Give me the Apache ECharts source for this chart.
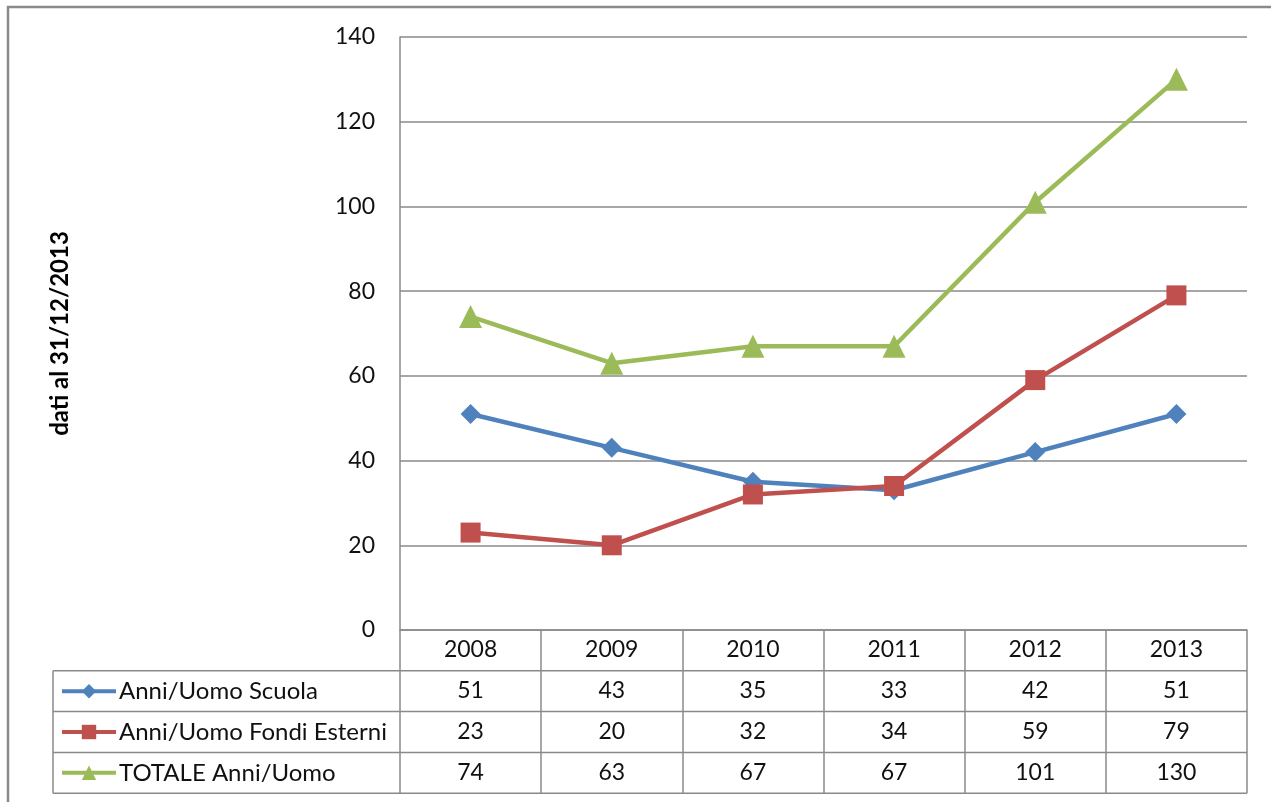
<!DOCTYPE html>
<html><head><meta charset="utf-8">
<script src="https://cdn.jsdelivr.net/npm/echarts@6/dist/echarts.min.js"></script>
<style>html,body{margin:0;padding:0;background:#fff;}#c{width:1271px;height:802px;}</style>
</head><body><div id="c"></div>
<script>
// ---- data ----
const years = ['2008', '2009', '2010', '2011', '2012', '2013'];
const scuola = [51, 43, 35, 33, 42, 51];
const fondi = [23, 20, 32, 34, 59, 79];
const totale = [74, 63, 67, 67, 101, 130];
const seriesNames = ['Anni/Uomo Scuola', 'Anni/Uomo Fondi Esterni', 'TOTALE Anni/Uomo'];
const yMin = 0, yMax = 140, yInterval = 20;
const axisTitle = 'dati al 31/12/2013';

// ---- layout / style ----
const FONT = 'Lato';
const GRAY = '#8a8a8a';
const gridL = 400, gridR = 1247, gridT = 37, gridB = 630;
const rowH = 40.8;
const tableLeft = 53;
const tableBottom = gridB + rowH * 4;
const colors = ['#4F81BD', '#C0504D', '#9BBB59'];
const symbols = ['diamond', 'rect', 'triangle'];
const symSizes = [20, 20, 23];
const rowData = [scuola, fondi, totale];
const NUM_FS = 23;

const chart = echarts.init(document.getElementById('c'), null, {renderer: 'canvas'});

const baseLabelMargin = 7;
const xAxes = [{
  type: 'category', data: years, gridIndex: 0, position: 'bottom',
  boundaryGap: true,
  axisLine: {show: true, lineStyle: {color: GRAY, width: 1.5}},
  axisTick: {show: true, alignWithLabel: false, length: tableBottom - gridB, lineStyle: {color: GRAY, width: 1.5}},
  axisLabel: {margin: baseLabelMargin, color: '#111', fontFamily: FONT, fontSize: NUM_FS, lineHeight: 26}
}];
rowData.forEach((arr, k) => {
  xAxes.push({
    type: 'category', data: years, gridIndex: 0, position: 'bottom',
    boundaryGap: true,
    axisLine: {show: false}, axisTick: {show: false},
    axisLabel: {margin: baseLabelMargin + rowH * (k + 1), color: '#111', fontFamily: FONT, fontSize: NUM_FS, lineHeight: 26,
      formatter: (v, i) => String(arr[i])}
  });
});

const graphics = [
  {type: 'rect', shape: {x: 8, y: 7, width: 1400, height: 900}, style: {fill: 'none', stroke: GRAY, lineWidth: 2.5}, silent: true},
  {type: 'text', x: 60, y: (gridT + gridB) / 2, rotation: Math.PI / 2,
   style: {text: axisTitle, fontFamily: FONT, fontWeight: 'bold', fontSize: 24, fill: '#000', align: 'center', verticalAlign: 'middle'}},
  {type: 'line', shape: {x1: tableLeft, y1: gridB + rowH, x2: tableLeft, y2: tableBottom}, style: {stroke: GRAY, lineWidth: 1.5}}
];
for (let k = 1; k <= 4; k++) {
  graphics.push({type: 'line', shape: {x1: tableLeft, y1: gridB + rowH * k, x2: gridR, y2: gridB + rowH * k}, style: {stroke: GRAY, lineWidth: 1.5}});
}

const legends = seriesNames.map((n, i) => ({
  data: [n], orient: 'horizontal', left: 60, top: gridB + rowH * (i + 1) + rowH / 2 - 13,
  padding: 0, itemWidth: 54, itemHeight: 18, itemGap: 0, selectedMode: false,
  lineStyle: {width: 4},
  textStyle: {fontFamily: FONT, fontSize: 24, lineHeight: 26, color: '#111', padding: [0, 0, 0, -2]}
}));

const option = {
  animation: false,
  backgroundColor: '#fff',
  grid: {left: gridL, right: 1271 - gridR, top: gridT, bottom: 802 - gridB, containLabel: false},
  xAxis: xAxes,
  yAxis: {
    type: 'value', min: yMin, max: yMax, interval: yInterval,
    axisLine: {show: true, lineStyle: {color: GRAY, width: 1.5}},
    axisTick: {show: false},
    splitLine: {show: true, lineStyle: {color: GRAY, width: 1.5}},
    axisLabel: {margin: 25, color: '#111', fontFamily: FONT, fontSize: NUM_FS}
  },
  legend: legends,
  graphic: graphics,
  series: seriesNames.map((n, i) => ({
    name: n, type: 'line', data: rowData[i], xAxisIndex: 0, yAxisIndex: 0,
    symbol: symbols[i], symbolSize: symSizes[i], showSymbol: true,
    lineStyle: {width: 4.5, color: colors[i]},
    itemStyle: {color: colors[i]},
    emphasis: {disabled: true}
  }))
};
chart.setOption(option);
</script></body></html>
